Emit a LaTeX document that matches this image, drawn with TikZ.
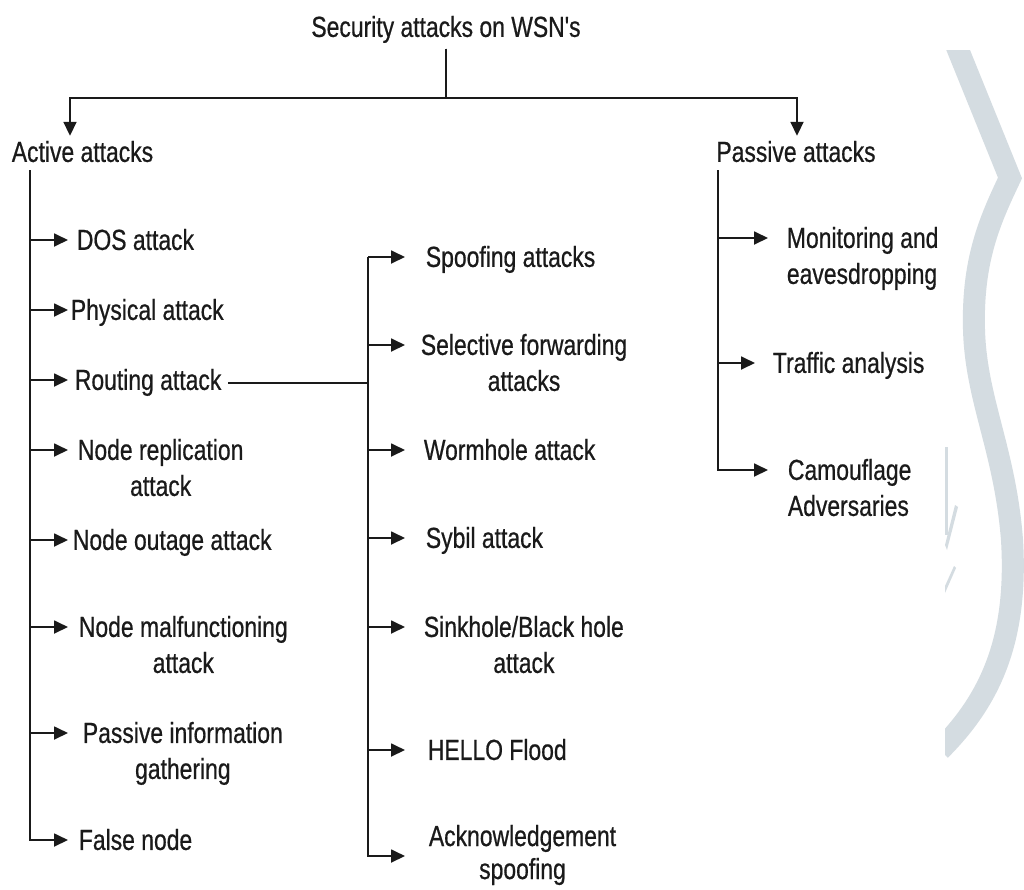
\documentclass[tikz,border=0pt]{standalone}
\usepackage{fontspec}
\setmainfont[FakeStretch=0.79,FakeBold=0.6,Ligatures=TeXOff]{Liberation Sans}
\usetikzlibrary{arrows.meta}
\definecolor{ink}{HTML}{1A1A1A}
\definecolor{wm}{HTML}{D4DCE1}
\begin{document}
\begin{tikzpicture}[x=1pt,y=-1pt,line width=1.8pt,draw=ink,
  lbl/.style={font=\fontsize{29}{36}\selectfont,text=ink,inner ysep=0pt,anchor=north west,align=center},
  lblL/.style={lbl,align=left},
  head/.style={lbl,anchor=north},
  arr/.style={-{Triangle[length=14pt,width=13pt]}},
  wmark/.style={draw=wm,line width=22pt}]
\useasboundingbox[fill=white] (0,0) rectangle (1024,889);

% watermark
\begin{scope}
  \clip (945,50) rectangle (1024,889);
  \draw[wmark] (950,30) -- (1010,178) .. controls (990,220) and (972,260) .. (974,330)
     .. controls (976,400) and (1005,450) .. (1012,540)
     .. controls (1018,640) and (990,700) .. (940,750);
\end{scope}
\fill[wm] (945,447) rectangle (948,535);
\fill[wm] (945,545) -- (955,505) -- (958,507) -- (947,550) -- cycle;
\fill[wm] (945,586) -- (954,566) -- (956,568) -- (945,593) -- cycle;

% headings
\node[head] (title) at (446,10.8) {\strut Security attacks on WSN's};
\node[head] (act) at (82.5,135.8) {\strut Active attacks};
\node[head] (pas) at (796,135.8) {\strut Passive attacks};

\coordinate (barL) at (70,98);
\coordinate (barR) at (797,98);
\draw[arr] (title.south) |- (barL) -- (barL |- act.north);
\draw[arr] (title.south) |- (barR) -- (barR |- pas.north);

% active attacks column
\node[lbl,inner xsep=8pt]  (dos)   at (68,223.8) {\strut DOS attack};
\node[lbl,inner xsep=2pt]  (phys)  at (68,293.8) {\strut Physical attack};
\node[lbl,inner xsep=6pt]  (rout)  at (68,363.8) {\strut Routing attack};
\node[lbl,inner xsep=9pt]  (nrep)  at (68,433.8) {\strut Node replication\\\strut attack};
\node[lbl,inner xsep=4pt]  (nout)  at (68,523.8) {\strut Node outage attack};
\node[lbl,inner xsep=10pt] (nmal)  at (68,610.8) {\strut Node malfunctioning\\\strut attack};
\node[lbl,inner xsep=14pt] (pig)   at (68,716.8) {\strut Passive information\\\strut gathering};
\node[lbl,inner xsep=10pt] (fnode) at (68,823.8) {\strut False node};

\coordinate (tl) at (30,170);
\foreach \n in {dos,phys,rout,nrep,nout,nmal,pig,fnode}
  \draw[arr] (tl) |- ([yshift=-16.2pt]\n.north west);

% routing attacks column
\node[lbl,inner xsep=20pt] (spoof) at (405,240.8) {\strut Spoofing attacks};
\node[lbl,inner xsep=15pt] (self)  at (405,328.8) {\strut Selective forwarding\\\strut attacks};
\node[lbl,inner xsep=18pt] (worm)  at (405,433.8) {\strut Wormhole attack};
\node[lbl,inner xsep=20pt] (sybil) at (405,521.8) {\strut Sybil attack};
\node[lbl,inner xsep=18pt] (sink)  at (405,610.8) {\strut Sinkhole/Black hole\\\strut attack};
\node[lbl,inner xsep=22pt] (hello) at (405,733.8) {\strut HELLO Flood};
\node[lbl,inner xsep=23pt,font=\fontsize{29}{33}\selectfont] (ack) at (405,822) {\strut Acknowledgement\\\strut spoofing};

\coordinate (tm) at (368,257);
\draw (rout.east) -- (rout.east -| tm);
\foreach \n in {spoof,self,worm,sybil,sink,hello}
  \draw[arr] (tm) |- ([yshift=-16.2pt]\n.north west);
\draw[arr] (tm) |- ([yshift=-34pt]ack.north west);

% passive attacks column
\node[lblL,inner xsep=18pt] (mon)  at (768,221.8) {\strut Monitoring and\\\strut eavesdropping};
\node[lbl,inner xsep=17pt]  (traf) at (755,346.8) {\strut Traffic analysis};
\node[lblL,inner xsep=19pt] (cam)  at (768,453.8) {\strut Camouflage\\\strut Adversaries};

\coordinate (tr) at (718,170);
\foreach \n in {mon,traf,cam}
  \draw[arr] (tr) |- ([yshift=-16.2pt]\n.north west);
\end{tikzpicture}
\end{document}
